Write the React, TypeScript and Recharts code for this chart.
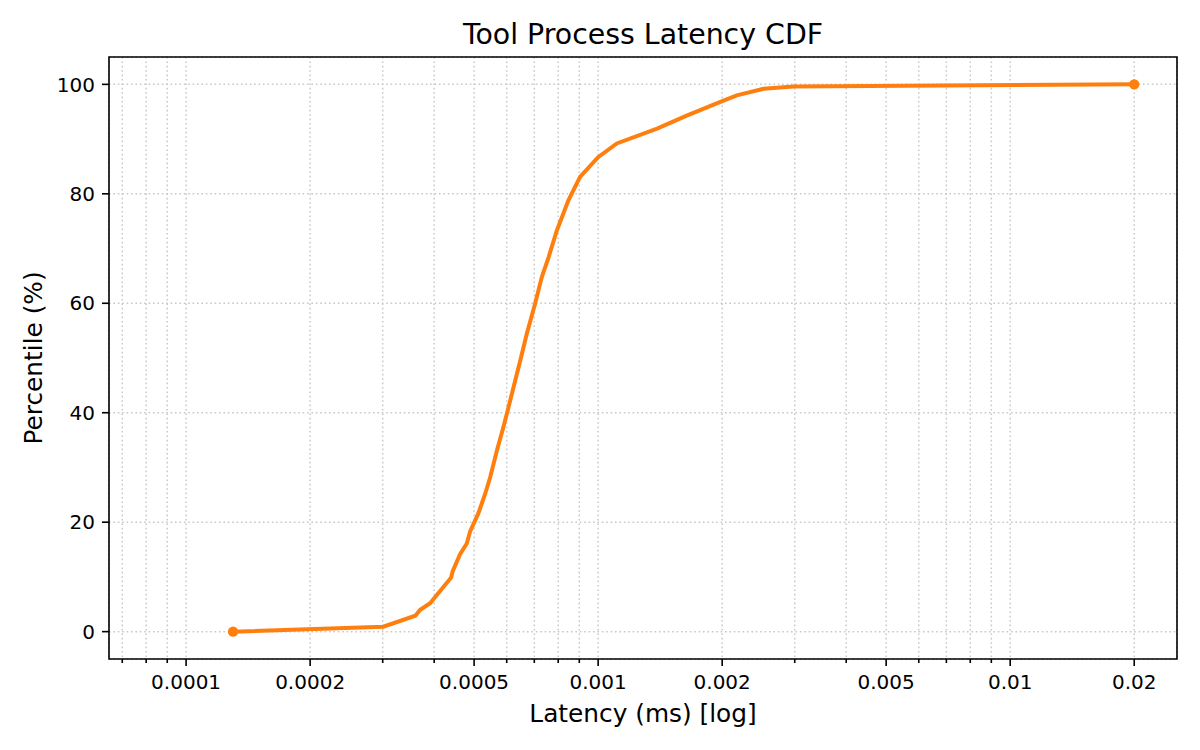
import React from "react";
import {
  CartesianGrid,
  Line,
  LineChart,
  ReferenceArea,
  XAxis,
  YAxis,
} from "recharts";

// latency in ms (log x) and cumulative percentile
const latencyMs = [
  0.000130, 0.000301, 0.000360, 0.000370, 0.000391, 0.000440, 0.000443,
  0.000462, 0.000480, 0.000489, 0.000512, 0.000532, 0.000547, 0.000568,
  0.000589, 0.000606, 0.000623, 0.000647, 0.000671, 0.000703, 0.000730,
  0.000758, 0.000794, 0.000847, 0.000904, 0.00100, 0.00111, 0.00139,
  0.00164, 0.00198, 0.00217, 0.00252, 0.00298, 0.0200,
];
const percentile = [
  0, 0.9, 2.9, 4.0, 5.2, 9.9, 10.9,
  14.1, 16.1, 18.3, 21.6, 25.2, 28.2, 33.1,
  37.4, 41.0, 44.6, 49.5, 54.4, 59.9, 64.8,
  68.4, 73.3, 78.8, 83.1, 86.7, 89.2, 91.9,
  94.3, 96.8, 98.0, 99.2, 99.6, 100,
];

const labelledTicks = [0.0001, 0.0002, 0.0005, 0.001, 0.002, 0.005, 0.01, 0.02];
const tickLabels = ["0.0001", "0.0002", "0.0005", "0.001", "0.002", "0.005", "0.01", "0.02"];
const minorTicks = [
  0.00007, 0.00008, 0.00009, 0.0003, 0.0004, 0.0006, 0.0007, 0.0008, 0.0009,
  0.003, 0.004, 0.006, 0.007, 0.008, 0.009,
];
const yTicks = [0, 20, 40, 60, 80, 100];

const X_DOMAIN: [number, number] = [0.0000650, 0.0254];
const Y_DOMAIN: [number, number] = [-5, 105];
const FONT = "'DejaVu Sans', sans-serif";
const ORANGE = "#ff7f0e";

const data = latencyMs.map((v, i) => ({ latency: v, pct: percentile[i] }));
const allTicks = [...labelledTicks, ...minorTicks].sort((a, b) => a - b);

function XTick(props: any) {
  const { x, y, payload } = props;
  const idx = labelledTicks.indexOf(payload.value);
  const major = idx >= 0;
  return (
    <g transform={`translate(${x},${y})`}>
      <line y1={0} y2={major ? 7 : 4} stroke="#000" strokeWidth={1.6} />
      {major && (
        <text y={30} textAnchor="middle" fontSize={20} fontFamily={FONT} fill="#000">
          {tickLabels[idx]}
        </text>
      )}
    </g>
  );
}

function YTick(props: any) {
  const { x, y, payload } = props;
  return (
    <g transform={`translate(${x},${y})`}>
      <line x1={0} x2={-7} stroke="#000" strokeWidth={1.6} />
      <text x={-14} dy="0.36em" textAnchor="end" fontSize={20} fontFamily={FONT} fill="#000">
        {payload.value}
      </text>
    </g>
  );
}

function EndDot(props: any) {
  const { cx, cy, index } = props;
  if (index !== 0 && index !== data.length - 1) return null;
  return <circle key={index} cx={cx} cy={cy} r={5.2} fill={ORANGE} stroke="none" />;
}

export default function App() {
  return (
    <div style={{ position: "absolute", left: 0, top: 0, width: 1200, height: 750, background: "#fff" }}>
      <LineChart
        width={1200}
        height={750}
        data={data}
        margin={{ top: 57, right: 23, bottom: 31, left: 49 }}
      >
        <CartesianGrid stroke="#c8c8c8" strokeWidth={1.5} strokeDasharray="1.6 2.8" />
        <XAxis
          type="number"
          dataKey="latency"
          scale="log"
          domain={X_DOMAIN}
          allowDataOverflow
          ticks={allTicks}
          interval={0}
          tick={<XTick />}
          tickSize={0}
          tickMargin={0}
          tickLine={false}
          axisLine={false}
          height={60}
          label={{
            content: (p: any) => {
              const vb = p.viewBox;
              return (
                <text
                  x={vb.x + vb.width / 2}
                  y={vb.y + 63}
                  textAnchor="middle"
                  fontSize={24.8}
                  fontFamily={FONT}
                  fill="#000"
                >
                  Latency (ms) [log]
                </text>
              );
            },
          }}
        />
        <YAxis
          type="number"
          domain={Y_DOMAIN}
          ticks={yTicks}
          interval={0}
          tick={<YTick />}
          tickSize={0}
          tickMargin={0}
          tickLine={false}
          axisLine={false}
          width={60}
          label={{
            content: (p: any) => {
              const vb = p.viewBox;
              const cy = vb.y + vb.height / 2;
              return (
                <text
                  transform={`translate(42,${cy}) rotate(-90)`}
                  textAnchor="middle"
                  fontSize={24.8}
                  fontFamily={FONT}
                  fill="#000"
                >
                  Percentile (%)
                </text>
              );
            },
          }}
        />
        <ReferenceArea
          x1={X_DOMAIN[0]}
          x2={X_DOMAIN[1]}
          y1={Y_DOMAIN[0]}
          y2={Y_DOMAIN[1]}
          fill="none"
          stroke="#000"
          strokeWidth={1.6}
          ifOverflow="visible"
        />
        <Line
          type="linear"
          dataKey="pct"
          stroke={ORANGE}
          strokeWidth={4}
          dot={EndDot}
          activeDot={false}
          isAnimationActive={false}
        />
        <text x={643} y={44} textAnchor="middle" fontSize={28.4} fontFamily={FONT} fill="#000">
          Tool Process Latency CDF
        </text>
      </LineChart>
    </div>
  );
}
